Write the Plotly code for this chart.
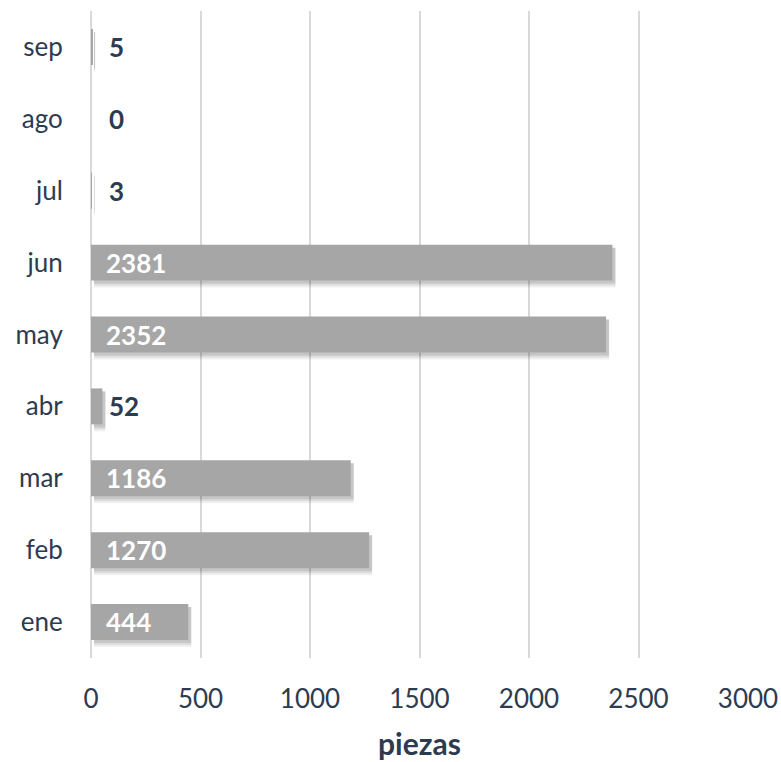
import plotly.graph_objects as go

months = ["ene", "feb", "mar", "abr", "may", "jun", "jul", "ago", "sep"]
piezas = [444, 1270, 1186, 52, 2352, 2381, 3, 0, 5]
x_ticks = [0, 500, 1000, 1500, 2000, 2500, 3000]
x_title = "piezas"

FONT = "Source Sans Pro, Lato, sans-serif"
TXT = "#2d3b50"
BAR = "#a6a6a6"

fig = go.Figure()

# soft drop shadow layers (shifted right/down)
px_per_unit = (748 - 91) / 3000.0
cat_px = 71.9
for dx, dy, grow, alpha in [(5, 5, 4, 0.06), (4, 4, 2, 0.08), (3, 3, 0, 0.10)]:
    w = 0.5 + grow / cat_px
    fig.add_trace(go.Bar(
        y=months, x=piezas, orientation="h",
        base=dx / px_per_unit - grow / 2 / px_per_unit,
        width=w, offset=-w / 2 - dy / cat_px,
        marker=dict(color=f"rgba(0,0,0,{alpha})", line=dict(width=0)),
        hoverinfo="skip", showlegend=False,
    ))

fig.add_trace(go.Bar(
    y=months, x=piezas, orientation="h",
    width=0.5, offset=-0.25,
    marker=dict(color=BAR, line=dict(width=0)),
    showlegend=False,
))

for m, v in zip(months, piezas):
    inside = v > 300
    fig.add_annotation(
        x=0, y=m, xref="x", yref="y", text=f"<b>{v}</b>",
        showarrow=False, xanchor="left", yanchor="middle",
        xshift=13 if inside else 16,
        font=dict(family=FONT, size=26, color="white" if inside else TXT),
    )

fig.add_annotation(
    x=0.5, y=0, xref="paper", yref="paper", text=f"<b>{x_title}</b>",
    showarrow=False, xanchor="center", yanchor="middle", yshift=-85,
    font=dict(family=FONT, size=30, color=TXT),
)

fig.update_layout(
    width=781, height=762,
    margin=dict(l=91, r=33, t=11, b=104),
    paper_bgcolor="white", plot_bgcolor="white",
    barmode="overlay",
    font=dict(family=FONT, size=26, color=TXT),
    xaxis=dict(
        range=[0, 3000], tickvals=x_ticks, ticktext=[str(t) for t in x_ticks],
        showgrid=True, gridcolor="#d9d9d9", gridwidth=1.5,
        zeroline=True, zerolinecolor="#d9d9d9", zerolinewidth=1.5,
        ticks="outside", ticklen=18, tickcolor="rgba(0,0,0,0)",
        automargin=False, fixedrange=True,
    ),
    yaxis=dict(
        categoryorder="array", categoryarray=months,
        showgrid=False, zeroline=False, showline=False,
        ticks="outside", ticklen=22, tickcolor="rgba(0,0,0,0)",
        automargin=False, fixedrange=True,
    ),
)

fig.write_html(
    "out.html",
    config={"displayModeBar": False},
    post_script="document.body.style.margin='0px';document.body.style.overflow='hidden';",
)
